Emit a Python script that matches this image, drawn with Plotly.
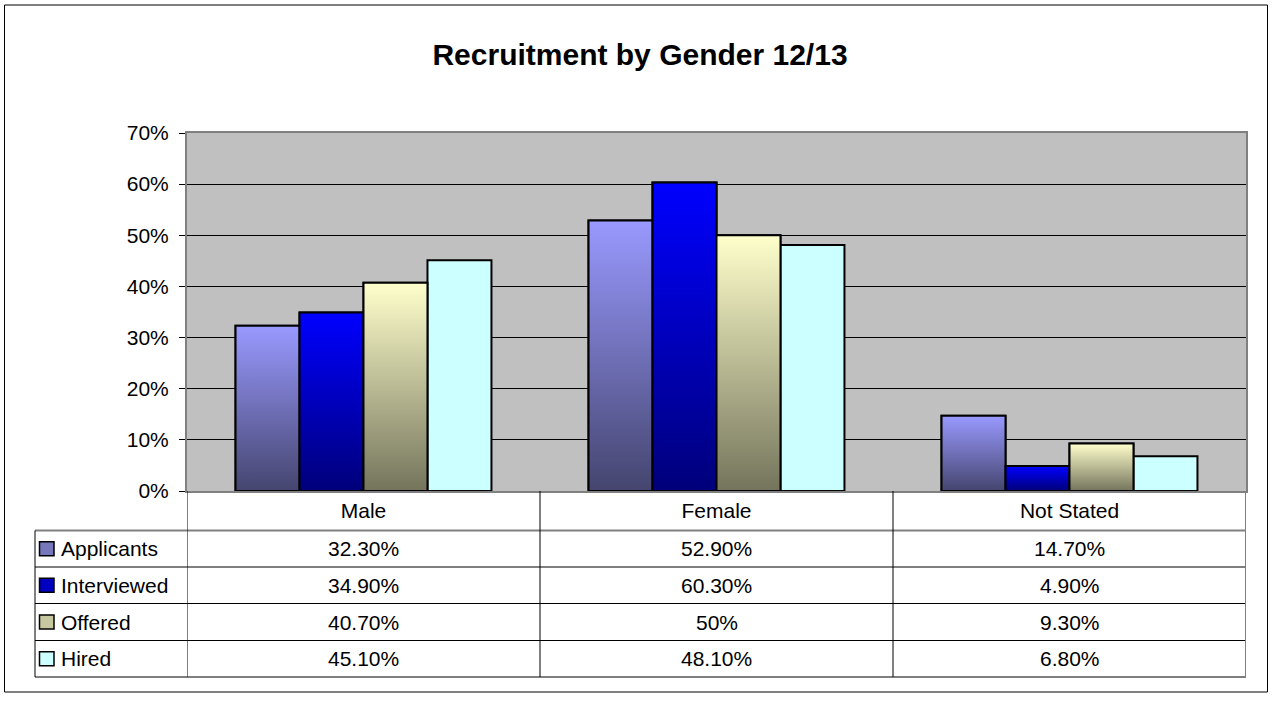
import plotly.graph_objects as go

# ---------------- data ----------------
categories = ["Male", "Female", "Not Stated"]
series_names = ["Applicants", "Interviewed", "Offered", "Hired"]
applicants = [32.3, 52.9, 14.7]
interviewed = [34.9, 60.3, 4.9]
offered = [40.7, 50.0, 9.3]
hired = [45.1, 48.1, 6.8]
y_ticks = [0, 10, 20, 30, 40, 50, 60, 70]
y_tick_labels = [f"{t}%" for t in y_ticks]
title_text = "Recruitment by Gender 12/13"

series_values = [applicants, interviewed, offered, hired]
# (top colour, bottom colour, legend key colour)
styles = [
    ("#9999FF", "#45456F", "#7777BB"),
    ("#0000FF", "#00007A", "#0000C0"),
    ("#FFFFCC", "#74745C", "#C8C8A0"),
    ("#CCFFFF", "#CCFFFF", "#CCFFFF"),
]
gradient = [True, True, True, False]

W, H = 1273, 704
L, R, T, B = 187, 1246, 133, 491
FONT = "Liberation Sans, Arial, sans-serif"


def pxx(p):
    return (p - L) / (R - L)


def pxy(p):
    return (B - p) / (B - T)


def fmt(v):
    return f"{v:.0f}%" if float(v).is_integer() else f"{v:.2f}%"


bargap = 0.275
nser = len(series_names)
bw = (1 - bargap) / nser
xpos = list(range(len(categories)))

fig = go.Figure()
for i, (name, vals) in enumerate(zip(series_names, series_values)):
    top, bot, key = styles[i]
    fig.add_trace(go.Bar(
        name=name, x=xpos, y=vals,
        marker=dict(color=top if not gradient[i] else key,
                    line=dict(color="#000000", width=2)),
        showlegend=False,
    ))

# gradient overlays built from the same values on the same axes
for i, vals in enumerate(series_values):
    if not gradient[i]:
        continue
    top, bot, key = styles[i]
    for c, v in zip(xpos, vals):
        x0 = c - (1 - bargap) / 2 + i * bw
        x1 = x0 + bw
        fig.add_trace(go.Scatter(
            x=[x0, x1, x1, x0, x0], y=[0, 0, v, v, 0],
            mode="lines", fill="toself",
            fillgradient=dict(type="vertical",
                              colorscale=[[0, bot], [1, top]],
                              start=0, stop=v),
            line=dict(color="#000000", width=2),
            hoverinfo="skip", showlegend=False,
        ))

shapes = []
# outer chart border
shapes.append(dict(type="rect", xref="paper", yref="paper",
                   x0=pxx(4.5), x1=pxx(1267.5), y0=pxy(5), y1=pxy(692),
                   line=dict(color="#000000", width=1), layer="below"))

row_lines = [530.5, 567, 603.5, 640.5, 677]
for k, yy in enumerate(row_lines):
    shapes.append(dict(type="line", xref="paper", yref="paper",
                       x0=pxx(35), x1=pxx(R), y0=pxy(yy), y1=pxy(yy),
                       line=dict(color="#808080" if k == 0 else "#000000",
                                 width=2 if k == 0 else 1)))
# left edge of row headers
shapes.append(dict(type="line", xref="paper", yref="paper",
                   x0=pxx(35), x1=pxx(35), y0=pxy(530.5), y1=pxy(677),
                   line=dict(color="#000000", width=1)))
# column separators
for xv in [-0.5, 0.5, 1.5, 2.5]:
    shapes.append(dict(type="line", xref="x", yref="paper",
                       x0=xv, x1=xv, y0=pxy(B), y1=pxy(677),
                       line=dict(color="#808080" if xv == 2.5 else "#000000",
                                 width=2 if xv == 2.5 else 1)))

annotations = []
row_centers = [(row_lines[k] + row_lines[k + 1]) / 2 for k in range(4)]
for i, name in enumerate(series_names):
    yc = row_centers[i]
    top, bot, key = styles[i]
    shapes.append(dict(type="rect", xref="paper", yref="paper",
                       x0=pxx(39.5), x1=pxx(54), y0=pxy(yc - 7), y1=pxy(yc + 7),
                       fillcolor=key, line=dict(color="#000000", width=1.5)))
    annotations.append(dict(x=pxx(59), y=pxy(yc), xref="paper", yref="paper",
                            text=name, showarrow=False, xanchor="left",
                            yanchor="middle",
                            font=dict(family=FONT, size=21, color="#000000")))
    for c, v in zip(xpos, series_values[i]):
        annotations.append(dict(x=c, y=pxy(yc), xref="x", yref="paper",
                                text=fmt(v), showarrow=False, xanchor="center",
                                yanchor="middle",
                                font=dict(family=FONT, size=21, color="#000000")))

fig.update_layout(
    width=W, height=H,
    margin=dict(l=L, r=W - R, t=T, b=H - B, pad=0),
    paper_bgcolor="#FFFFFF", plot_bgcolor="#C0C0C0",
    barmode="group", bargap=bargap, bargroupgap=0,
    showlegend=False,
    title=dict(text=title_text, x=640 / W, xref="container", xanchor="center",
               y=1 - 54 / H, yref="container", yanchor="middle",
               font=dict(family=FONT, size=30, color="#000000",
                         weight="bold")),
    shapes=shapes, annotations=annotations,
    font=dict(family=FONT, size=21, color="#000000"),
)
fig.update_xaxes(range=[-0.5, 2.5], tickvals=xpos, ticktext=categories,
                 showgrid=False, zeroline=False, ticks="",
                 showline=True, linecolor="#808080", linewidth=2, mirror=True,
                 tickfont=dict(family=FONT, size=21, color="#000000"),
                 fixedrange=True)
fig.update_yaxes(range=[0, 70], tickvals=y_ticks, ticktext=y_tick_labels,
                 showgrid=True, gridcolor="#000000", gridwidth=1,
                 zeroline=True, zerolinecolor="#000000", zerolinewidth=1,
                 ticks="outside", ticklen=6, tickcolor="#000000",
                 ticklabelstandoff=6,
                 showline=True, linecolor="#808080", linewidth=2, mirror=True,
                 tickfont=dict(family=FONT, size=21, color="#000000"),
                 fixedrange=True)

fig.write_html(
    "out.html",
    config={"displayModeBar": False},
    post_script="document.body.style.margin='0';"
                "document.body.style.overflow='hidden';",
)
